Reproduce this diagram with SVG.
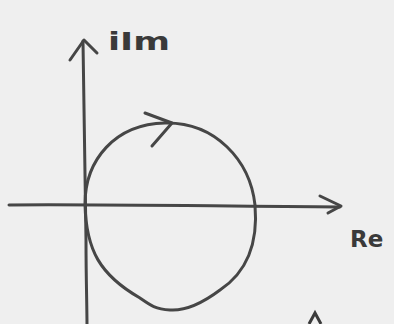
<svg xmlns="http://www.w3.org/2000/svg" width="394" height="324" viewBox="0 0 394 324">
<style>
.ln{fill:none;stroke:#464646;stroke-width:3;stroke-linecap:round;stroke-linejoin:round}
.lbl{font-family:"DejaVu Sans","Liberation Sans",sans-serif;fill:#3a3a3a;font-weight:bold}
</style>
<rect width="394" height="324" fill="#efefef"/>
<g id="connectors">
<path id="im-axis" class="ln" d="M83,41 C84,120 86,200 86,240 C86,280 87,305 87,326"/>
<path class="ln" d="M70,60 L84,40 L97,53"/>
<path id="re-axis" class="ln" d="M9,205 C80,204 200,206 340,207"/>
<path class="ln" d="M320,196 L341,206 L328,213"/>
</g>
<g id="circle">
<path class="ln" d="M85,204 C85,160 115,124 165,123 C215,122 250,160 255,205 C258,240 250,270 220,290 C200,305 185,311 170,310 C155,309 150,305 140,298 C100,275 86,250 85,204 Z"/>
<path class="ln" d="M145,113 L172,123 L152,146"/>
</g>
<g id="label-im"><text class="lbl" x="108" y="50" font-size="25" textLength="62" lengthAdjust="spacingAndGlyphs">iIm</text></g>
<g id="label-re"><text class="lbl" x="350" y="247" font-size="23">Re</text></g>
<path d="M309,324 L315,313 L321,324" fill="none" stroke="#3a3a3a" stroke-width="3"/>
</svg>
